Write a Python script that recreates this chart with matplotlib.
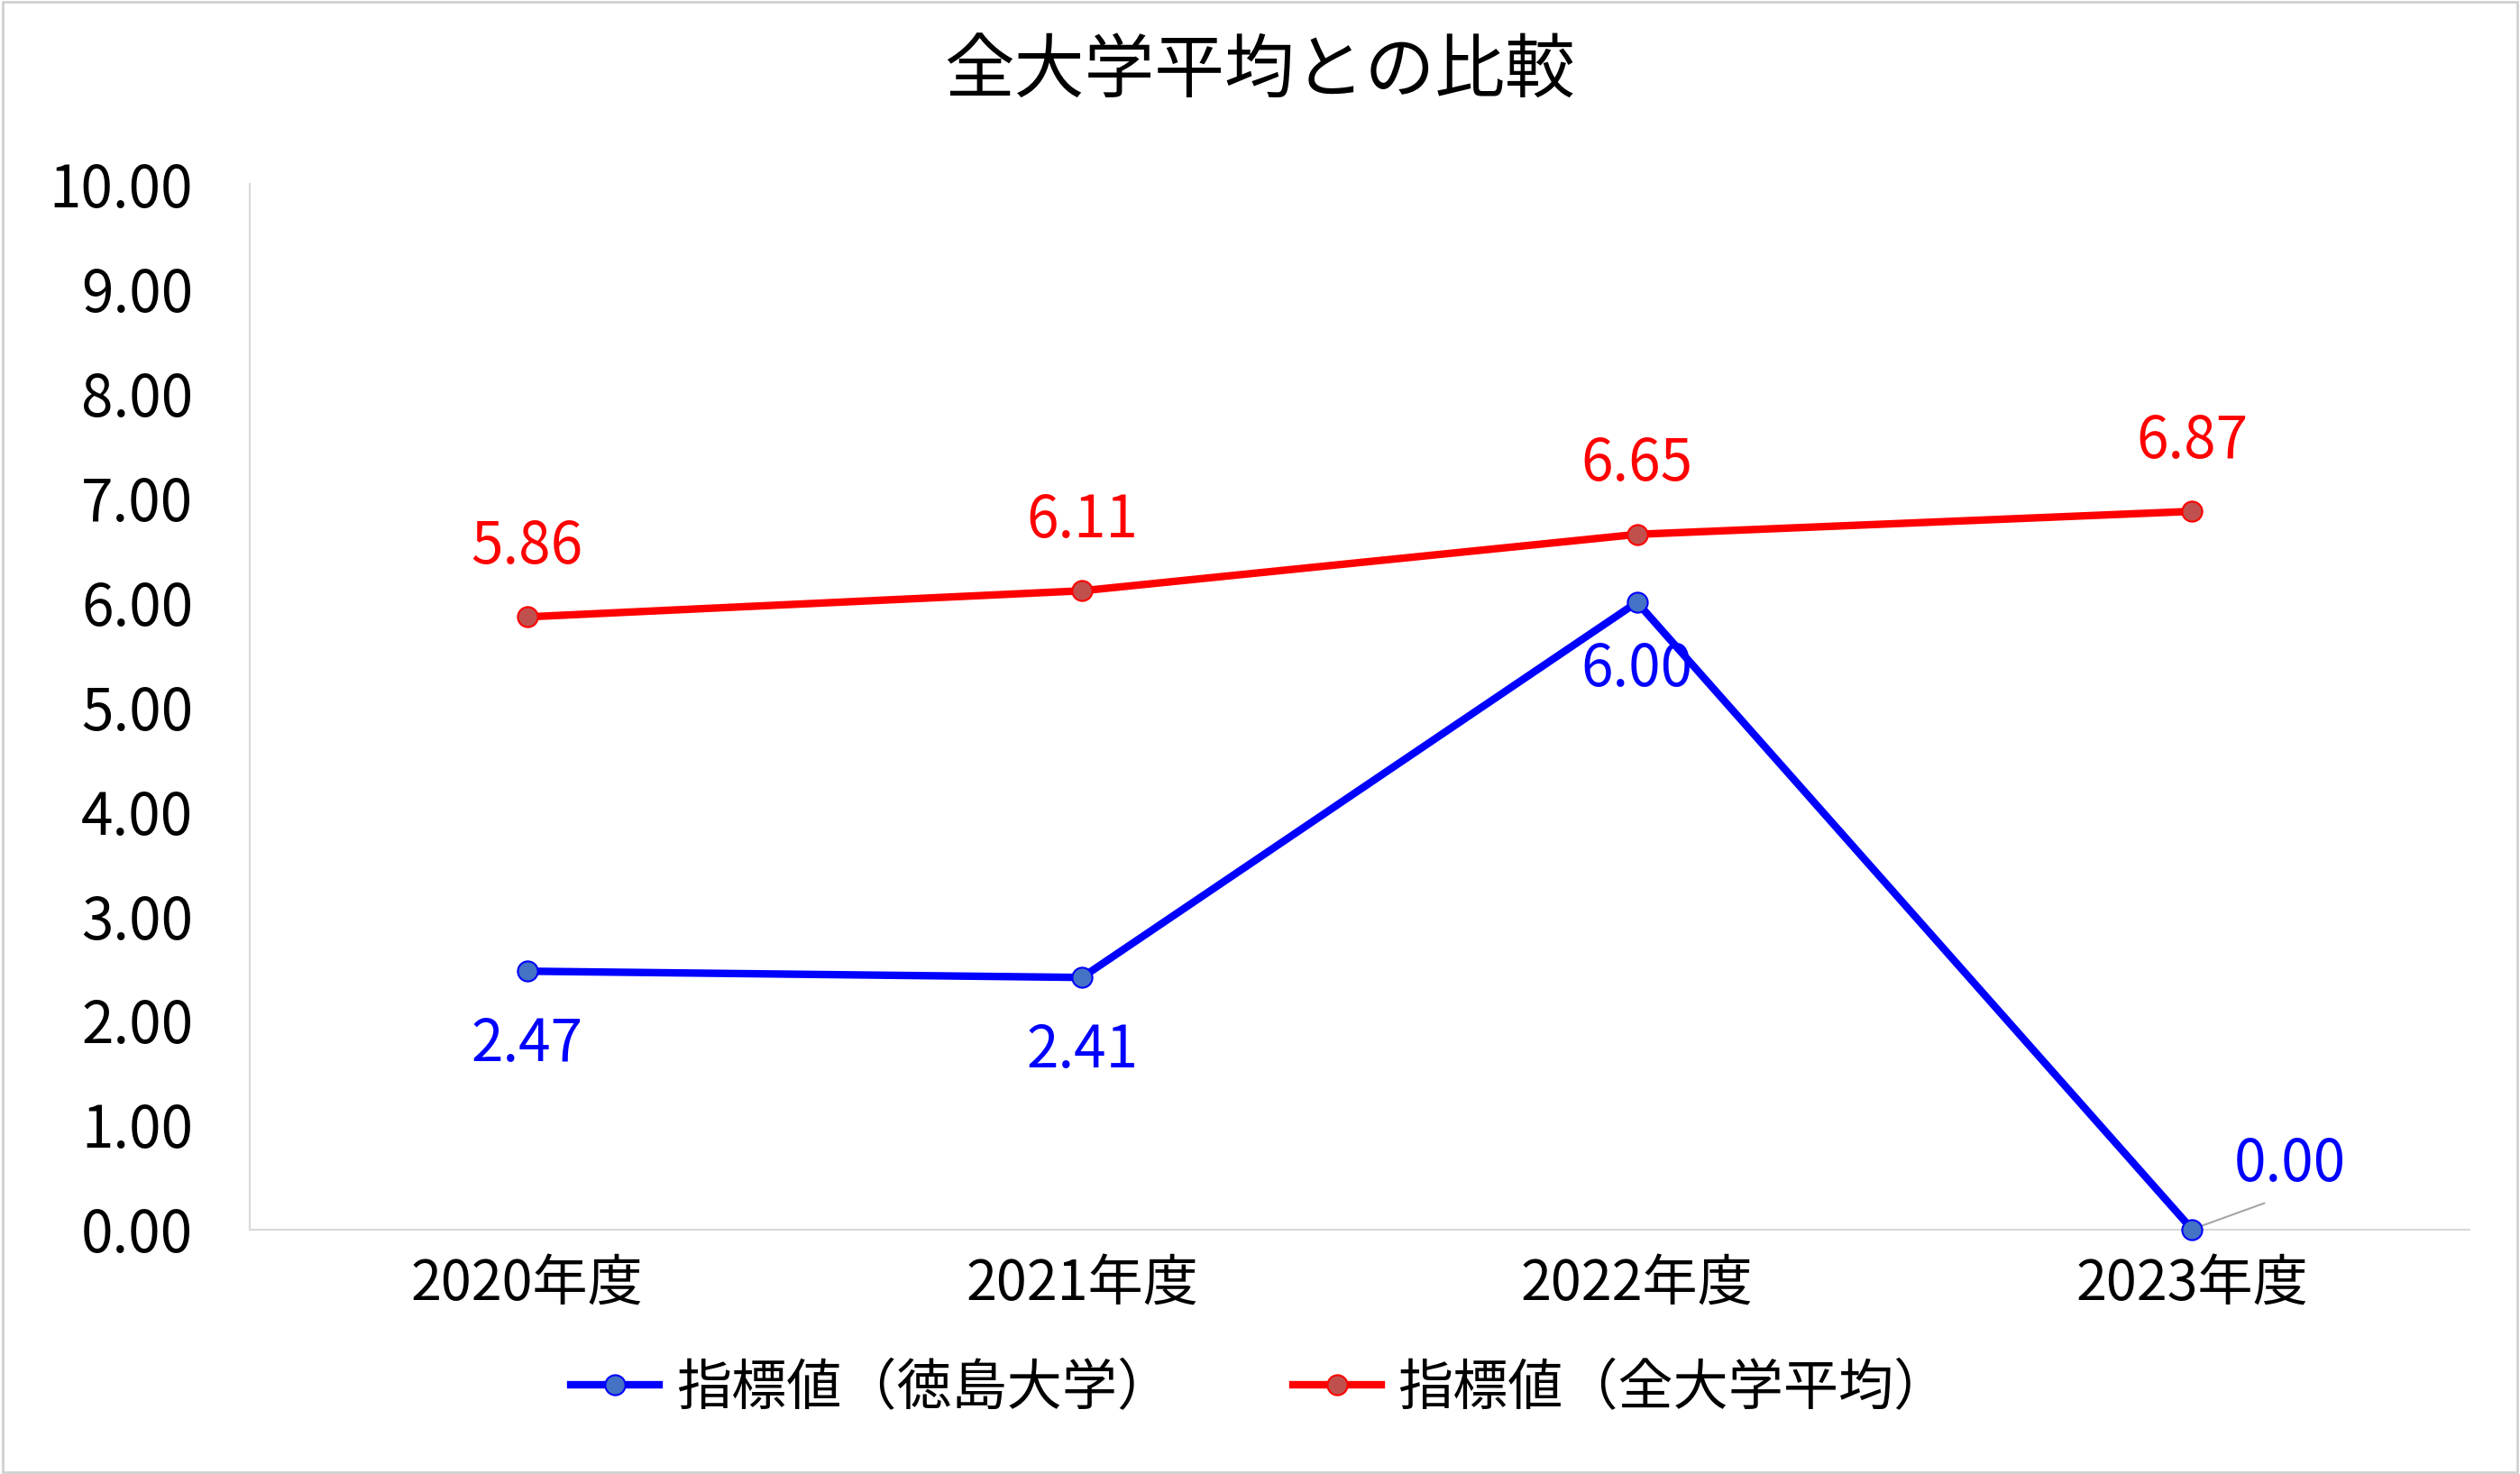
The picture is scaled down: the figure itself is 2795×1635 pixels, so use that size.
import matplotlib.pyplot as plt
from matplotlib.patches import Rectangle

plt.rcParams['font.family'] = 'Noto Sans CJK JP'

years = ['2020年度', '2021年度', '2022年度', '2023年度']
tokushima = [2.47, 2.41, 6.00, 0.00]
all_avg = [5.86, 6.11, 6.65, 6.87]
yticks = [0, 1, 2, 3, 4, 5, 6, 7, 8, 9, 10]

fig = plt.figure(figsize=(27.95, 16.35), dpi=100)
ax = fig.add_axes([0.099, 0.166, 0.881, 0.709])
fig.patches.append(Rectangle((0.001, 0.001), 0.998, 0.998, transform=fig.transFigure,
                             fill=False, edgecolor='#d0d0d0', linewidth=2))

x = list(range(len(years)))
ax.plot(x, tokushima, color='#0000ff', linewidth=6, marker='o', markersize=16,
        markerfacecolor='#4472c4', markeredgecolor='#0000ff', markeredgewidth=1.5,
        label='指標値（徳島大学）', clip_on=False, zorder=3)
ax.plot(x, all_avg, color='#ff0000', linewidth=6, marker='o', markersize=16,
        markerfacecolor='#c0504d', markeredgecolor='#ff0000', markeredgewidth=1.5,
        label='指標値（全大学平均）', clip_on=False, zorder=3)

for i, v in enumerate(all_avg):
    ax.annotate(f'{v:.2f}', (i, v), xytext=(0, 32), textcoords='offset points',
                ha='center', va='bottom', color='#ff0000', fontsize=46)
blue_off = [(0, -35), (0, -35), (0, -30), (78, 28)]
for i, v in enumerate(tokushima):
    dx, dy = blue_off[i]
    ax.annotate(f'{v:.2f}', (i, v), xytext=(dx, dy), textcoords='offset points',
                ha='center', va='top' if dy < 0 else 'bottom', color='#0000ff', fontsize=46)
ax.plot([3, 3.13], [0, 0.25], color='#a6a6a6', linewidth=1.5)

ax.set_xlim(-0.5, 3.5)
ax.set_ylim(0, 10)
ax.set_xticks(x)
ax.set_xticklabels(years, fontsize=44)
ax.set_yticks(yticks)
ax.set_yticklabels([f'{t:.2f}' for t in yticks], fontsize=46)
ax.tick_params(axis='y', length=0, pad=45)
ax.tick_params(axis='x', length=0, pad=22)
for s in ['top', 'right']:
    ax.spines[s].set_visible(False)
for s in ['left', 'bottom']:
    ax.spines[s].set_color('#d9d9d9')
    ax.spines[s].set_linewidth(1.5)

fig.suptitle('全大学平均との比較', y=0.975, fontsize=56)
fig.legend(loc='lower center', bbox_to_anchor=(0.5, 0.005), ncol=2, frameon=False,
           fontsize=44, handlelength=1.6, handletextpad=0.3, columnspacing=2.2)

fig.savefig('out.png', dpi=100)
